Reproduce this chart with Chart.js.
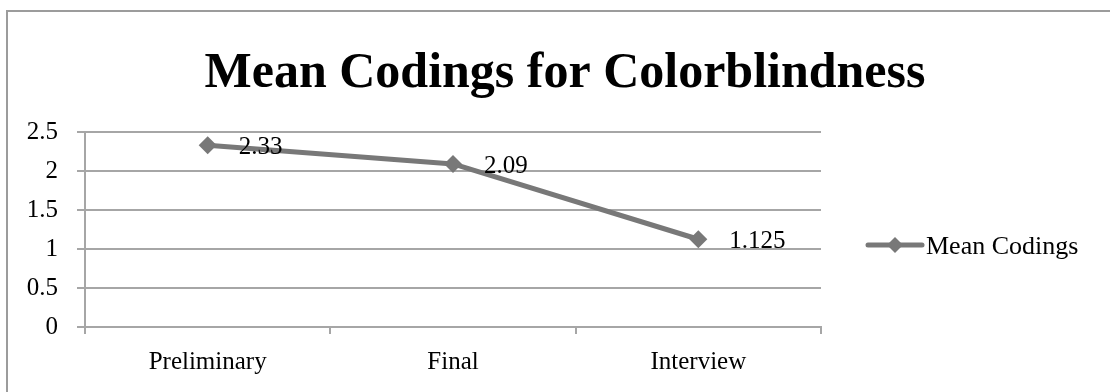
<!DOCTYPE html>
<html>
<head>
<meta charset="utf-8">
<title>Mean Codings for Colorblindness</title>
<script src="https://cdn.jsdelivr.net/npm/chart.js@4.4.1/dist/chart.umd.min.js"></script>
<style>
  html, body { margin: 0; padding: 0; background: #ffffff; }
  #wrap { position: relative; width: 1110px; height: 392px; }
</style>
</head>
<body>
<div id="wrap"><canvas id="chart"></canvas></div>
<script>
// Chart data
const categories = ['Preliminary', 'Final', 'Interview'];
const meanCodings = [2.33, 2.09, 1.125];
const valueLabels = ['2.33', '2.09', '1.125'];
const seriesName = 'Mean Codings';
const chartTitle = 'Mean Codings for Colorblindness';

const SERIES_COLOR = '#787878';
const GRID_COLOR = '#a6a6a6';
const FRAME_COLOR = '#9c9c9c';
const TEXT_FONT = '"Liberation Serif", "Times New Roman", serif';

function diamond(ctx, x, y, r) {
  ctx.beginPath();
  ctx.moveTo(x, y - r);
  ctx.lineTo(x + r, y);
  ctx.lineTo(x, y + r);
  ctx.lineTo(x - r, y);
  ctx.closePath();
  ctx.fill();
}

// Frame, title, value labels and legend drawn around the plot
const decorations = {
  id: 'decorations',
  beforeDraw(chart) {
    const ctx = chart.ctx;
    ctx.save();
    ctx.fillStyle = '#ffffff';
    ctx.fillRect(0, 0, chart.width, chart.height);
    ctx.strokeStyle = FRAME_COLOR;
    ctx.lineWidth = 2;
    ctx.beginPath();
    ctx.moveTo(7, chart.height);
    ctx.lineTo(7, 11);
    ctx.lineTo(chart.width, 11);
    ctx.stroke();
    ctx.restore();
  },
  afterDraw(chart) {
    const ctx = chart.ctx;
    ctx.save();
    // title
    ctx.fillStyle = '#000000';
    ctx.font = 'bold 50px ' + TEXT_FONT;
    ctx.textAlign = 'center';
    ctx.textBaseline = 'alphabetic';
    ctx.fillText(chartTitle, 565, 87);

    // value labels next to each point
    const meta = chart.getDatasetMeta(0);
    ctx.font = '25px ' + TEXT_FONT;
    ctx.textAlign = 'left';
    ctx.textBaseline = 'middle';
    meta.data.forEach((pt, i) => {
      ctx.fillText(valueLabels[i], pt.x + 31, pt.y + 2);
    });

    // legend
    const ly = 245;
    ctx.strokeStyle = SERIES_COLOR;
    ctx.lineWidth = 5;
    ctx.lineCap = 'round';
    ctx.beginPath();
    ctx.moveTo(868, ly);
    ctx.lineTo(922, ly);
    ctx.stroke();
    ctx.fillStyle = SERIES_COLOR;
    diamond(ctx, 895, ly, 8);
    ctx.fillStyle = '#000000';
    ctx.font = '26px ' + TEXT_FONT;
    ctx.fillText(seriesName, 926, ly + 2);
    ctx.restore();
  }
};

new Chart(document.getElementById('chart'), {
  type: 'line',
  data: {
    labels: categories,
    datasets: [{
      label: seriesName,
      data: meanCodings,
      borderColor: SERIES_COLOR,
      backgroundColor: SERIES_COLOR,
      borderWidth: 5,
      borderCapStyle: 'round',
      borderJoinStyle: 'round',
      pointStyle: 'rectRot',
      pointRadius: 9,
      pointBorderWidth: 0,
      pointBackgroundColor: SERIES_COLOR,
      tension: 0
    }]
  },
  options: {
    responsive: true,
    maintainAspectRatio: false,
    animation: false,
    layout: { padding: { left: 0, top: 132, right: 289, bottom: 0 } },
    plugins: {
      legend: { display: false },
      title: { display: false },
      tooltip: { enabled: false }
    },
    scales: {
      x: {
        type: 'category',
        offset: true,
        grid: {
          offset: true,
          drawOnChartArea: false,
          drawTicks: true,
          tickLength: 7,
          color: GRID_COLOR,
          lineWidth: 2
        },
        border: { display: true, color: GRID_COLOR, width: 2 },
        ticks: {
          color: '#000000',
          font: { family: TEXT_FONT, size: 25 },
          padding: 13,
          maxRotation: 0
        },
        afterFit(scale) { scale.height = 65; }
      },
      y: {
        min: 0,
        max: 2.5,
        ticks: {
          stepSize: 0.5,
          color: '#000000',
          font: { family: TEXT_FONT, size: 25 },
          padding: 19,
          callback: (value) => String(Number(value))
        },
        grid: {
          color: GRID_COLOR,
          lineWidth: 2,
          drawTicks: true,
          tickLength: 8
        },
        border: { display: true, color: GRID_COLOR, width: 2 },
        afterFit(scale) { scale.width = 85; }
      }
    }
  },
  plugins: [decorations]
});
</script>
</body>
</html>
